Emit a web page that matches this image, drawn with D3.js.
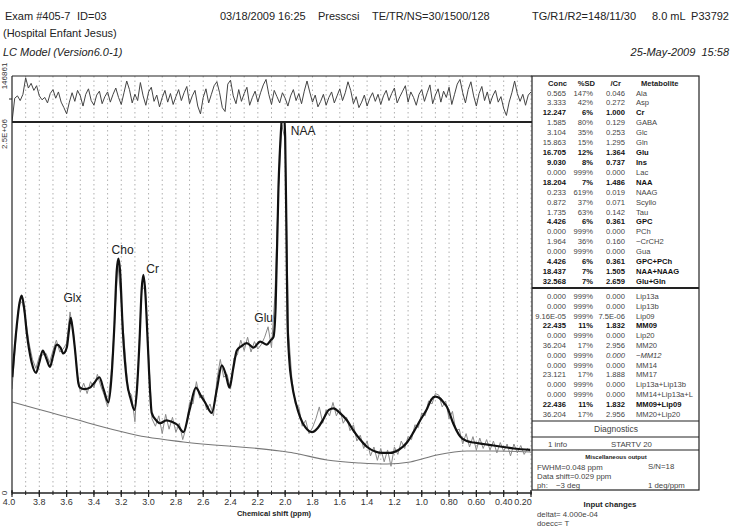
<!DOCTYPE html>
<html><head><meta charset="utf-8">
<script src="https://cdn.jsdelivr.net/npm/d3@7"></script>
<style>
body{margin:0;background:#fff;}
svg{display:block;font-family:"Liberation Sans",Arial,sans-serif;}
</style></head><body>
<svg id="c" width="732" height="527"></svg>
<script>
// ---------- DATA (signal in units of 1e4, residual in units of 1e3) ----------
const fitPpm = [3.998,3.966,3.945,3.929,3.910,3.892,3.856,3.824,3.800,3.775,3.750,3.722,3.700,3.673,3.645,3.624,3.599,3.585,3.570,3.555,3.538,3.514,3.502,3.470,3.429,3.400,3.360,3.330,3.294,3.270,3.252,3.233,3.221,3.209,3.189,3.160,3.130,3.104,3.085,3.067,3.050,3.038,3.026,3.006,2.990,2.977,2.945,2.916,2.870,2.830,2.790,2.745,2.700,2.654,2.620,2.586,2.537,2.500,2.464,2.435,2.408,2.380,2.354,2.320,2.281,2.232,2.183,2.134,2.105,2.086,2.070,2.049,2.030,2.015,2.000,1.990,1.983,1.970,1.951,1.920,1.890,1.850,1.804,1.760,1.719,1.680,1.646,1.600,1.548,1.500,1.451,1.400,1.341,1.290,1.231,1.170,1.108,1.060,1.011,0.960,0.930,0.901,0.870,0.840,0.815,0.770,0.718,0.670,0.620,0.550,0.474,0.400,0.327,0.205];
const fitVal = [78,112,128,133,124,108,88,81,88,96,91,85,92,100,98,94,98,108,118,110,96,74,71,70,71,74,78,70,61,80,110,150,158,150,110,76,63,56,70,101,138,147,138,101,70,54,49,47,49,48,46,41,56,71,66,61,54,70,86,80,71,84,96,99,101,98,102,100,103,105,125,206,245,262,240,170,117,90,74,60,51,44,41,44,50,56,57,54,49,42,36,31,28,27,27,29,34,41,49,57,63,65,64,61,58,47,38,35,34,33,32,31,30,29];

const basePpm = [3.998,3.599,3.013,2.745,2.037,1.940,1.694,1.451,1.255,1.084,0.889,0.669,0.474,0.205];
const baseVal = [61.3,51.2,37.7,34.4,28.3,27.0,22.2,20.2,19.5,20.9,25.6,28.3,28.3,27.6];

const dataStartPpm = 4.0, dataStepPpm = 0.025;
const dataVal = [70,100,127,129,117,101,90,84,92,93,94,88,96,103,95,97,101,122,108,82,
68,74,67,75,71,80,72,66,58,80,112,155,128,98,69,66,48,88,137,139,
93,50,45,52,40,53,43,51,41,47,36,44,61,60,75,64,66,56,60,52,
76,90,78,80,70,91,93,103,96,105,95,102,97,100,105,112,98,133,203,248,
238,108,76,60,58,45,49,40,44,50,58,47,56,52,61,52,57,47,51,42,
46,35,39,30,35,25,31,22,30,21,29,18,31,26,35,30,38,36,46,44,
54,52,62,60,67,66,58,62,50,55,42,43,33,40,31,38,29,37,30,36,
29,35,27,34,28,33,25,33,27,32,26,30,27];

const resStartPpm = 4.0, resStepPpm = 0.02;
const resValK = [-146,5,20,-10,30,135,70,100,55,85,20,-5,10,-25,35,60,5,45,-20,-55,
-95,-20,40,-15,55,20,-45,30,65,-10,-40,25,50,-30,15,45,-20,30,70,10,
-35,40,115,60,-25,30,-10,105,20,-40,45,75,-15,25,-50,10,55,-20,35,-35,
15,60,-10,40,80,-30,20,55,-45,-95,10,65,-25,30,85,110,40,-55,-80,95,
120,20,-30,60,-15,35,75,-40,10,50,-20,40,90,125,30,-35,55,15,-25,40,
5,-45,20,60,-10,35,-30,50,115,45,-20,25,-50,-15,30,-40,10,45,-25,20,
65,-10,40,110,55,-30,15,-55,-20,25,-45,5,40,-15,30,-35,20,55,-10,35,
70,-25,15,50,85,-20,45,10,-40,30,60,-15,40,90,-30,25,65,-20,50,10,
75,-35,30,95,125,40,-25,60,110,20,-45,35,80,-10,45,-30,20,55,-20,15,
-60,-105,-20,40,115,35,-15,30,-40,25,45];

const xMajor = [4.0,3.8,3.6,3.4,3.2,3.0,2.8,2.6,2.4,2.2,2.0,1.8,1.6,1.4,1.2,1.0,0.8,0.6,0.4,0.2];
const xTickLabels = ["4.0","3.8","3.6","3.4","3.2","3.0","2.8","2.6","2.4","2.2","2.0","1.8","1.6","1.4","1.2","1.0","0.80","0.60","0.40","0.20"];

const peakNames = ["Glx","Cho","Cr","Glu","NAA"];
const peakPpm = [3.557,3.19,2.97,2.157,1.868];
const peakLabelVal = [129,161,148,115,241];

const metabolites = ["Ala","Asp","Cr","GABA","Glc","Gln","Glu","Ins","Lac","NAA","NAAG","Scyllo","Tau","GPC","PCh","\u2212CrCH2","Gua","GPC+PCh","NAA+NAAG","Glu+Gln"];
const conc = ["0.565","3.333","12.247","1.585","3.104","15.863","16.705","9.030","0.000","18.204","0.233","0.872","1.735","4.426","0.000","1.964","0.000","4.426","18.437","32.568"];
const sdPct = ["147%","42%","6%","80%","35%","15%","12%","8%","999%","7%","619%","37%","63%","6%","999%","36%","999%","6%","7%","7%"];
const ratioCr = ["0.046","0.272","1.000","0.129","0.253","1.295","1.364","0.737","0.000","1.486","0.019","0.071","0.142","0.361","0.000","0.160","0.000","0.361","1.505","2.659"];
const boldMets = ["Cr","Glu","Ins","NAA","GPC","GPC+PCh","NAA+NAAG","Glu+Gln","MM09","MM09+Lip09"];

const lipNames = ["Lip13a","Lip13b","Lip09","MM09","Lip20","MM20","\u2212MM12","MM14","MM17","Lip13a+Lip13b","MM14+Lip13a+L","MM09+Lip09","MM20+Lip20"];
const lipConc = ["0.000","0.000","9.16E-05","22.435","0.000","36.204","0.000","0.000","23.121","0.000","0.000","22.436","36.204"];
const lipSd = ["999%","999%","999%","11%","999%","17%","999%","999%","17%","999%","999%","11%","17%"];
const lipRatio = ["0.000","0.000","7.5E-06","1.832","0.000","2.956","0.000","0.000","1.888","0.000","0.000","1.832","2.956"];

// ---------- DRAW ----------
const svg = d3.select("#c");
const L = 12, R = 531, TOPR = 76, SEP = 122, BOT = 493;
const x = d3.scaleLinear().domain([4.0, 0.2]).range([L, R]);
const y = d3.scaleLinear().domain([0, 250]).range([BOT, SEP]);
const yr = d3.scaleLinear().domain([-146.861, 146.861]).range([SEP, TOPR]);

const defs = svg.append("defs");
defs.append("clipPath").attr("id","cm").append("rect").attr("x",L).attr("y",SEP).attr("width",R-L).attr("height",BOT-SEP);
defs.append("clipPath").attr("id","cr").append("rect").attr("x",L).attr("y",TOPR).attr("width",R-L).attr("height",SEP-TOPR);

// header texts
const hdr = svg.append("g").attr("fill","#222").style("font-size","11px");
hdr.append("text").attr("x",5).attr("y",20).text("Exam #405-7");
hdr.append("text").attr("x",77).attr("y",20).text("ID=03");
hdr.append("text").attr("x",3).attr("y",37).text("(Hospital Enfant Jesus)");
hdr.append("text").attr("x",3).attr("y",56).style("font-style","italic").text("LC Model (Version6.0-1)");
hdr.append("text").attr("x",220).attr("y",20).text("03/18/2009 16:25");
hdr.append("text").attr("x",318).attr("y",20).text("Presscsi");
hdr.append("text").attr("x",372).attr("y",20).text("TE/TR/NS=30/1500/128");
hdr.append("text").attr("x",532).attr("y",20).text("TG/R1/R2=148/11/30");
hdr.append("text").attr("x",652).attr("y",20).text("8.0 mL");
hdr.append("text").attr("x",729).attr("y",20).attr("text-anchor","end").text("P33792");
hdr.append("text").attr("x",729).attr("y",56).attr("text-anchor","end").style("font-style","italic").style("white-space","pre").text("25-May-2009  15:58");

// dotted grid every 0.1 ppm
const grid = d3.range(1, 39).map(i => 4.0 - i * 0.1);
svg.append("g").selectAll("line").data(grid).join("line")
  .attr("x1", d => x(d)).attr("x2", d => x(d)).attr("y1", TOPR).attr("y2", BOT)
  .attr("stroke","#9a9a9a").attr("stroke-width",0.8).attr("stroke-dasharray","1.5,3");

// residual
const resPts = resValK.map((v, i) => [resStartPpm - i * resStepPpm, v]);
svg.append("path").datum(resPts).attr("clip-path","url(#cr)")
  .attr("d", d3.line().x(d => x(d[0])).y(d => yr(d[1])))
  .attr("fill","none").attr("stroke","#444").attr("stroke-width",1);

// baseline
const basePts = basePpm.map((p, i) => [p, baseVal[i]]);
svg.append("path").datum(basePts).attr("clip-path","url(#cm)")
  .attr("d", d3.line().curve(d3.curveMonotoneX).x(d => x(d[0])).y(d => y(d[1])))
  .attr("fill","none").attr("stroke","#777").attr("stroke-width",1.1);

// data
const dataPts = dataVal.map((v, i) => [dataStartPpm - i * dataStepPpm, v]);
svg.append("path").datum(dataPts).attr("clip-path","url(#cm)")
  .attr("d", d3.line().x(d => x(d[0])).y(d => y(d[1])))
  .attr("fill","none").attr("stroke","#8a8a8a").attr("stroke-width",1);

// fit
const fitPts = fitPpm.map((p, i) => [p, fitVal[i]]);
svg.append("path").datum(fitPts).attr("clip-path","url(#cm)")
  .attr("d", d3.line().curve(d3.curveMonotoneX).x(d => x(d[0])).y(d => y(d[1])))
  .attr("fill","none").attr("stroke","#111").attr("stroke-width",2.2).attr("stroke-linejoin","round");

// peak labels
svg.append("g").style("font-size","12px").attr("fill","#222").selectAll("text")
  .data(peakNames).join("text")
  .attr("x", (d, i) => x(peakPpm[i])).attr("y", (d, i) => y(peakLabelVal[i]))
  .attr("text-anchor","middle").text(d => d);

// frame
const fr = svg.append("g").attr("stroke","#222").attr("fill","none");
fr.append("line").attr("x1",L).attr("x2",L).attr("y1",TOPR).attr("y2",BOT).attr("stroke-width",1.2);
fr.append("line").attr("x1",L).attr("x2",R+1).attr("y1",TOPR).attr("y2",TOPR).attr("stroke-width",1.2);
fr.append("line").attr("x1",L).attr("x2",R+1).attr("y1",SEP).attr("y2",SEP).attr("stroke-width",2);
fr.append("line").attr("x1",L).attr("x2",R+1).attr("y1",BOT).attr("y2",BOT).attr("stroke-width",1.4);
fr.append("line").attr("x1",L-3).attr("x2",L).attr("y1",yr(0)).attr("y2",yr(0)).attr("stroke-width",1);

// left axis labels
const lab = svg.append("g").attr("fill","#333").style("font-size","8px");
lab.append("text").attr("transform",`translate(7,${TOPR}) rotate(-90)`).attr("text-anchor","middle").text("146861");
lab.append("text").attr("transform",`translate(7,${SEP+12}) rotate(-90)`).attr("text-anchor","middle").text("2.5E+06");
lab.append("text").attr("transform",`translate(7,${BOT}) rotate(-90)`).attr("text-anchor","middle").text("0");

// x axis ticks
const minor = d3.range(0, 39).map(i => 4.0 - i * 0.1);
svg.append("g").selectAll("line").data(minor).join("line")
  .attr("x1", d => x(d)).attr("x2", d => x(d)).attr("y1", BOT - 2).attr("y2", BOT + 2)
  .attr("stroke","#222").attr("stroke-width",1);
svg.append("g").selectAll("line").data(xMajor).join("line")
  .attr("x1", d => x(d)).attr("x2", d => x(d)).attr("y1", BOT - 3).attr("y2", BOT + 4)
  .attr("stroke","#222").attr("stroke-width",1.2);
svg.append("g").style("font-size","9px").attr("fill","#333").selectAll("text")
  .data(xMajor).join("text")
  .attr("x", (d, i) => x(d) + (i === 0 ? -3 : i === xMajor.length - 1 ? -8 : 0))
  .attr("y", 505).attr("text-anchor","middle").text((d, i) => xTickLabels[i]);
svg.append("text").attr("x",274).attr("y",516).attr("text-anchor","middle")
  .style("font-size","7.5px").style("font-weight","bold").attr("fill","#222").text("Chemical shift (ppm)");

// ---------- TABLE ----------
const TL = 532, TR = 699, TT = 76, TB = 490;
const tb = svg.append("g");
tb.append("rect").attr("x",TL).attr("y",TT).attr("width",TR-TL).attr("height",TB-TT)
  .attr("fill","none").attr("stroke","#222").attr("stroke-width",1.2);
[[288,1.8],[421,1.2],[437,1],[450,1]].forEach(([yy,w]) =>
  tb.append("line").attr("x1",TL).attr("x2",TR).attr("y1",yy).attr("y2",yy).attr("stroke","#222").attr("stroke-width",w));

const colConc = 566, colSd = 593, colCr = 625, colName = 636;
const FS = "7.6px";
const th = tb.append("g").style("font-size",FS).style("font-weight","bold").attr("fill","#222");
th.append("text").attr("x",colConc+1).attr("y",86).attr("text-anchor","end").text("Conc");
th.append("text").attr("x",colSd+2).attr("y",86).attr("text-anchor","end").text("%SD");
th.append("text").attr("x",colCr-4).attr("y",86).attr("text-anchor","end").text("/Cr");
th.append("text").attr("x",641).attr("y",86).text("Metabolite");

function rows(names, c, s, r, y0, dy) {
  names.forEach((n, i) => {
    const yy = y0 + i * dy;
    const b = boldMets.includes(n);
    const it = n === "\u2212MM12";
    const g = tb.append("g").style("font-size",FS)
      .style("font-weight", b ? "bold" : "normal").attr("fill", b ? "#111" : "#444");
    g.append("text").attr("x",colConc).attr("y",yy).attr("text-anchor","end").text(c[i]);
    g.append("text").attr("x",colSd).attr("y",yy).attr("text-anchor","end").text(s[i]);
    g.append("text").attr("x",colCr).attr("y",yy).attr("text-anchor","end").style("font-style", it ? "italic" : "normal").text(r[i]);
    g.append("text").attr("x",colName).attr("y",yy).style("font-style", it ? "italic" : "normal").text(n);
  });
}
rows(metabolites, conc, sdPct, ratioCr, 95.5, 9.92);
rows(lipNames, lipConc, lipSd, lipRatio, 299, 9.8);

const mt = tb.append("g").style("font-size","7.8px").attr("fill","#444");
mt.append("text").attr("x",616).attr("y",432).attr("text-anchor","middle").style("font-size","8.5px").text("Diagnostics");
mt.append("text").attr("x",548).attr("y",446.5).text("1 info");
mt.append("text").attr("x",611).attr("y",446.5).text("STARTV 20");
mt.append("text").attr("x",616).attr("y",459).attr("text-anchor","middle").style("font-size","6px").style("font-weight","bold").attr("fill","#222").text("Miscellaneous output");
mt.append("text").attr("x",537).attr("y",470).text("FWHM=0.048 ppm");
mt.append("text").attr("x",648).attr("y",469).text("S/N=18");
mt.append("text").attr("x",537).attr("y",479).text("Data shift=0.029 ppm");
mt.append("text").attr("x",537).attr("y",488).text("ph:");
mt.append("text").attr("x",556).attr("y",488).text("\u22123 deg");
mt.append("text").attr("x",648).attr("y",488).text("1 deg/ppm");

const ic = svg.append("g").style("font-size","7.8px").attr("fill","#444");
ic.append("text").attr("x",610).attr("y",507).attr("text-anchor","middle").style("font-weight","bold").attr("fill","#222").text("Input changes");
ic.append("text").attr("x",537).attr("y",517).text("deltat= 4.000e-04");
ic.append("text").attr("x",537).attr("y",526).text("doecc= T");
</script>
</body></html>
